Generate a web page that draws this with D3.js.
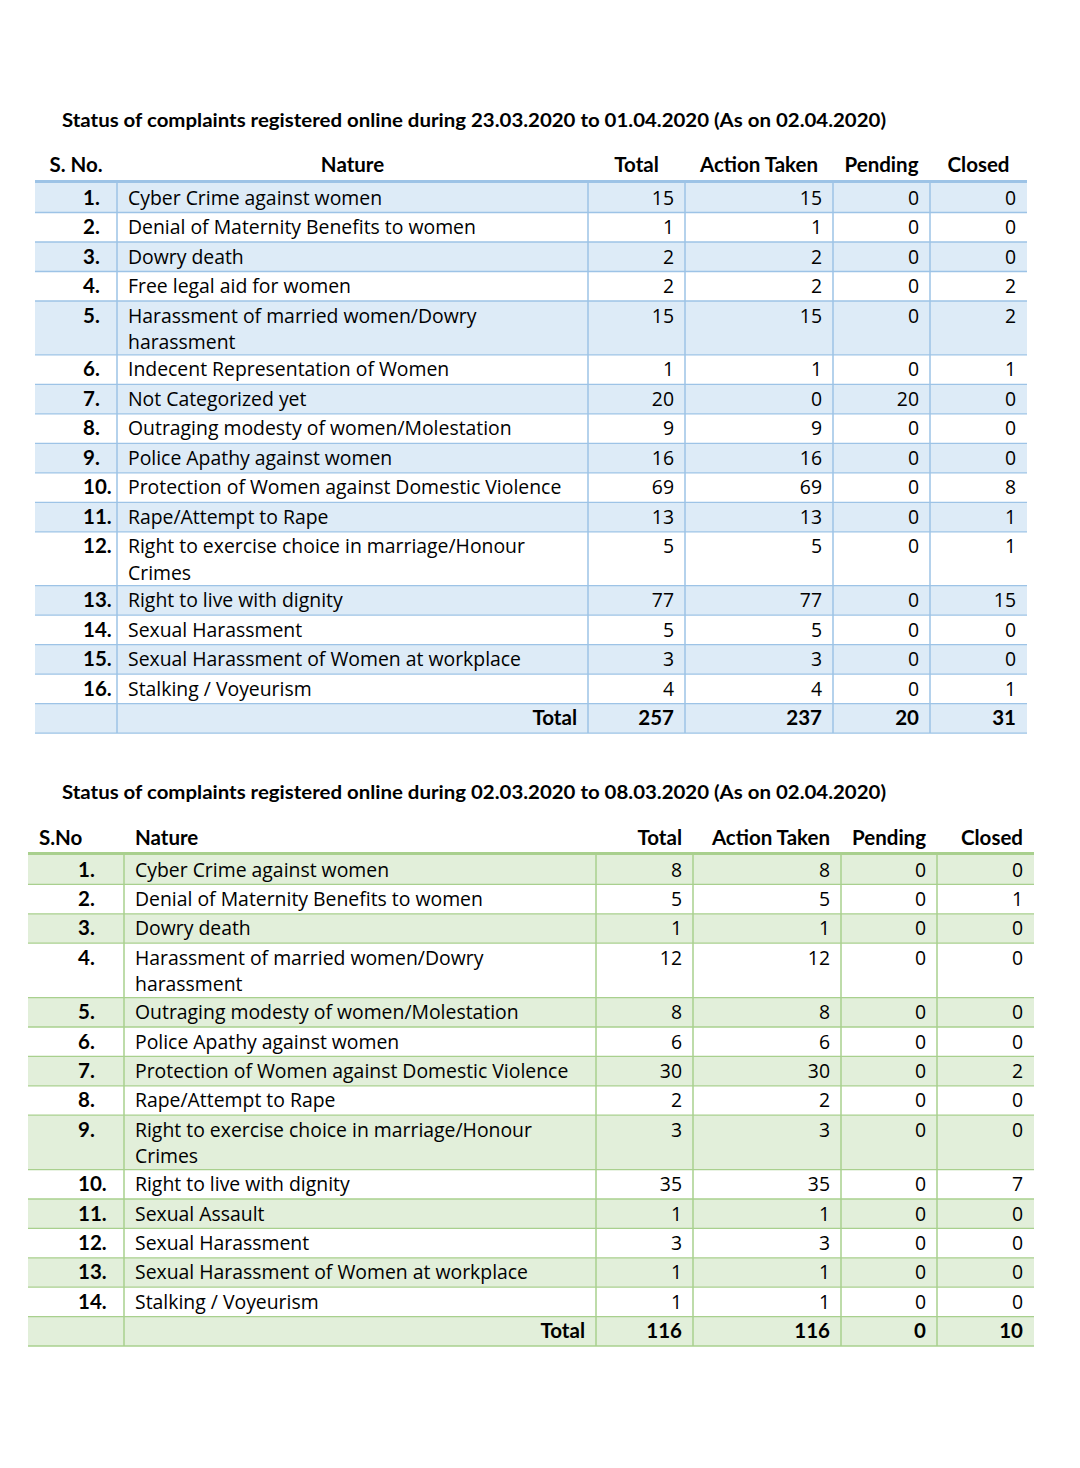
<!DOCTYPE html>
<html><head><meta charset="utf-8">
<script src="https://cdn.jsdelivr.net/npm/d3@7"></script>
<style>
html,body{margin:0;padding:0;background:#fff;}
svg{display:block;}
</style></head>
<body>
<script>
// ---------- DATA ----------
const columns = ["Total", "Action Taken", "Pending", "Closed"];

const title1 = "Status of complaints registered online during 23.03.2020 to 01.04.2020 (As on 02.04.2020)";
const headers1 = ["S. No.", "Nature", "Total", "Action Taken", "Pending", "Closed"];
const sno1 = ["1.","2.","3.","4.","5.","6.","7.","8.","9.","10.","11.","12.","13.","14.","15.","16."];
const nature1 = [
  "Cyber Crime against women",
  "Denial of Maternity Benefits to women",
  "Dowry death",
  "Free legal aid for women",
  "Harassment of married women/Dowry\nharassment",
  "Indecent Representation of Women",
  "Not Categorized yet",
  "Outraging modesty of women/Molestation",
  "Police Apathy against women",
  "Protection of Women against Domestic Violence",
  "Rape/Attempt to Rape",
  "Right to exercise choice in marriage/Honour\nCrimes",
  "Right to live with dignity",
  "Sexual Harassment",
  "Sexual Harassment of Women at workplace",
  "Stalking / Voyeurism"
];
const total1   = [15,1,2,2,15,1,20,9,16,69,13,5,77,5,3,4];
const action1  = [15,1,2,2,15,1,0,9,16,69,13,5,77,5,3,4];
const pending1 = [0,0,0,0,0,0,20,0,0,0,0,0,0,0,0,0];
const closed1  = [0,0,0,2,2,1,0,0,0,8,1,1,15,0,0,1];
const sums1    = [257,237,20,31];

const title2 = "Status of complaints registered online during 02.03.2020 to 08.03.2020 (As on 02.04.2020)";
const headers2 = ["S.No", "Nature", "Total", "Action Taken", "Pending", "Closed"];
const sno2 = ["1.","2.","3.","4.","5.","6.","7.","8.","9.","10.","11.","12.","13.","14."];
const nature2 = [
  "Cyber Crime against women",
  "Denial of Maternity Benefits to women",
  "Dowry death",
  "Harassment of married women/Dowry\nharassment",
  "Outraging modesty of women/Molestation",
  "Police Apathy against women",
  "Protection of Women against Domestic Violence",
  "Rape/Attempt to Rape",
  "Right to exercise choice in marriage/Honour\nCrimes",
  "Right to live with dignity",
  "Sexual Assault",
  "Sexual Harassment",
  "Sexual Harassment of Women at workplace",
  "Stalking / Voyeurism"
];
const total2   = [8,5,1,12,8,6,30,2,3,35,1,3,1,1];
const action2  = [8,5,1,12,8,6,30,2,3,35,1,3,1,1];
const pending2 = [0,0,0,0,0,0,0,0,0,0,0,0,0,0];
const closed2  = [0,1,0,0,0,0,2,0,0,7,0,0,0,0];
const sums2    = [116,116,0,10];

// ---------- DRAW ----------
const W = 1080, H = 1468;
const svg = d3.select("body").append("svg").attr("width", W).attr("height", H);

const BODY = "'Open Sans', 'Noto Sans', sans-serif";
const BOLD = "Lato, 'Open Sans', sans-serif";

function drawTable(cfg) {
  const {x0, x1, edges, titleX, titleY, titleW, headY, top, rowH, extraLine, headers, sno, nature, vals, sums,
         fill, line, snoX, headAlign} = cfg;
  const g = svg.append("g");

  // title
  const t = g.append("text").attr("x", titleX).attr("y", titleY)
    .attr("font-family", BOLD).attr("font-weight", 700).attr("font-size", 19.5)
    .attr("fill", "#000").text(cfg.title);
  t.attr("textLength", titleW).attr("lengthAdjust", "spacingAndGlyphs");

  // rows
  const rows = nature.map((n, i) => ({
    sno: sno[i], lines: n.split("\n"), vals: vals.map(v => v[i]), total: false
  }));
  rows.push({sno: "", lines: ["Total"], vals: sums, total: true});
  let y = top;
  rows.forEach(r => { r.y = y; r.h = rowH + (r.lines.length - 1) * extraLine; y += r.h; });
  const bottom = y;

  // fills
  g.selectAll("rect.row").data(rows).join("rect")
    .attr("x", x0).attr("width", x1 - x0)
    .attr("y", d => d.y).attr("height", d => d.h)
    .attr("fill", (d, i) => i % 2 === 0 ? fill : "#fff");

  // horizontal lines
  g.selectAll("line.h").data(rows).join("line")
    .attr("x1", x0).attr("x2", x1)
    .attr("y1", d => d.y + d.h).attr("y2", d => d.y + d.h)
    .attr("stroke", line).attr("stroke-width", 1.3);

  // vertical lines (internal)
  g.selectAll("line.v").data(edges.slice(1, -1)).join("line")
    .attr("x1", d => d).attr("x2", d => d)
    .attr("y1", top).attr("y2", bottom)
    .attr("stroke", line).attr("stroke-width", 1.5);

  // thick header line
  g.append("rect").attr("x", x0).attr("width", x1 - x0)
    .attr("y", top - 3).attr("height", 3).attr("fill", line);

  // headers
  headers.forEach((h, i) => {
    const a = headAlign[i];
    let hx, anchor;
    if (a === "c") { hx = (edges[i] + edges[i + 1]) / 2; anchor = "middle"; }
    else if (a === "l") { hx = edges[i] + 11; anchor = "start"; }
    else { hx = edges[i + 1] - 11; anchor = "end"; }
    g.append("text").attr("x", hx).attr("y", headY)
      .attr("text-anchor", anchor)
      .attr("font-family", BOLD).attr("font-weight", 700).attr("font-size", 20.5)
      .attr("fill", "#000").text(h);
  });

  // row text
  const baseOff = 21.5;
  rows.forEach(r => {
    if (r.sno) {
      g.append("text").attr("x", snoX).attr("y", r.y + baseOff)
        .attr("font-family", BOLD).attr("font-weight", 700).attr("font-size", 20.5)
        .attr("fill", "#000").text(r.sno);
    }
    if (r.total) {
      g.append("text").attr("x", edges[2] - 11).attr("y", r.y + baseOff)
        .attr("text-anchor", "end")
        .attr("font-family", BOLD).attr("font-weight", 700).attr("font-size", 20.5)
        .attr("fill", "#000").text("Total");
    } else {
      r.lines.forEach((ln, k) => {
        g.append("text").attr("x", edges[1] + 11).attr("y", r.y + baseOff + k * 26.5)
          .attr("font-family", BODY).attr("font-size", 19.4)
          .attr("fill", "#000").text(ln);
      });
    }
    r.vals.forEach((v, j) => {
      g.append("text").attr("x", edges[j + 3] - 11).attr("y", r.y + baseOff)
        .attr("text-anchor", "end")
        .attr("font-family", r.total ? BOLD : BODY)
        .attr("font-weight", r.total ? 700 : 400)
        .attr("font-size", r.total ? 20.5 : 19.4)
        .attr("fill", "#000").text(v);
    });
  });
}

drawTable({
  title: title1, titleX: 62, titleY: 127, titleW: 824,
  x0: 35, x1: 1027, edges: [35, 117, 588, 685, 833, 930, 1027],
  headY: 172, top: 183, rowH: 29.5, extraLine: 24.3,
  headers: headers1, sno: sno1, nature: nature1,
  vals: [total1, action1, pending1, closed1], sums: sums1,
  fill: "#DDEBF7", line: "#9DC3E6", snoX: 83, headAlign: ["c","c","c","c","c","c"]
});

drawTable({
  title: title2, titleX: 62, titleY: 799, titleW: 824,
  x0: 28, x1: 1034, edges: [28, 124, 596, 693, 841, 937, 1034],
  headY: 845, top: 855, rowH: 29.4, extraLine: 25,
  headers: headers2, sno: sno2, nature: nature2,
  vals: [total2, action2, pending2, closed2], sums: sums2,
  fill: "#E2EFDA", line: "#A9D08E", snoX: 78, headAlign: ["l","l","r","r","r","r"]
});
</script>
</body></html>
